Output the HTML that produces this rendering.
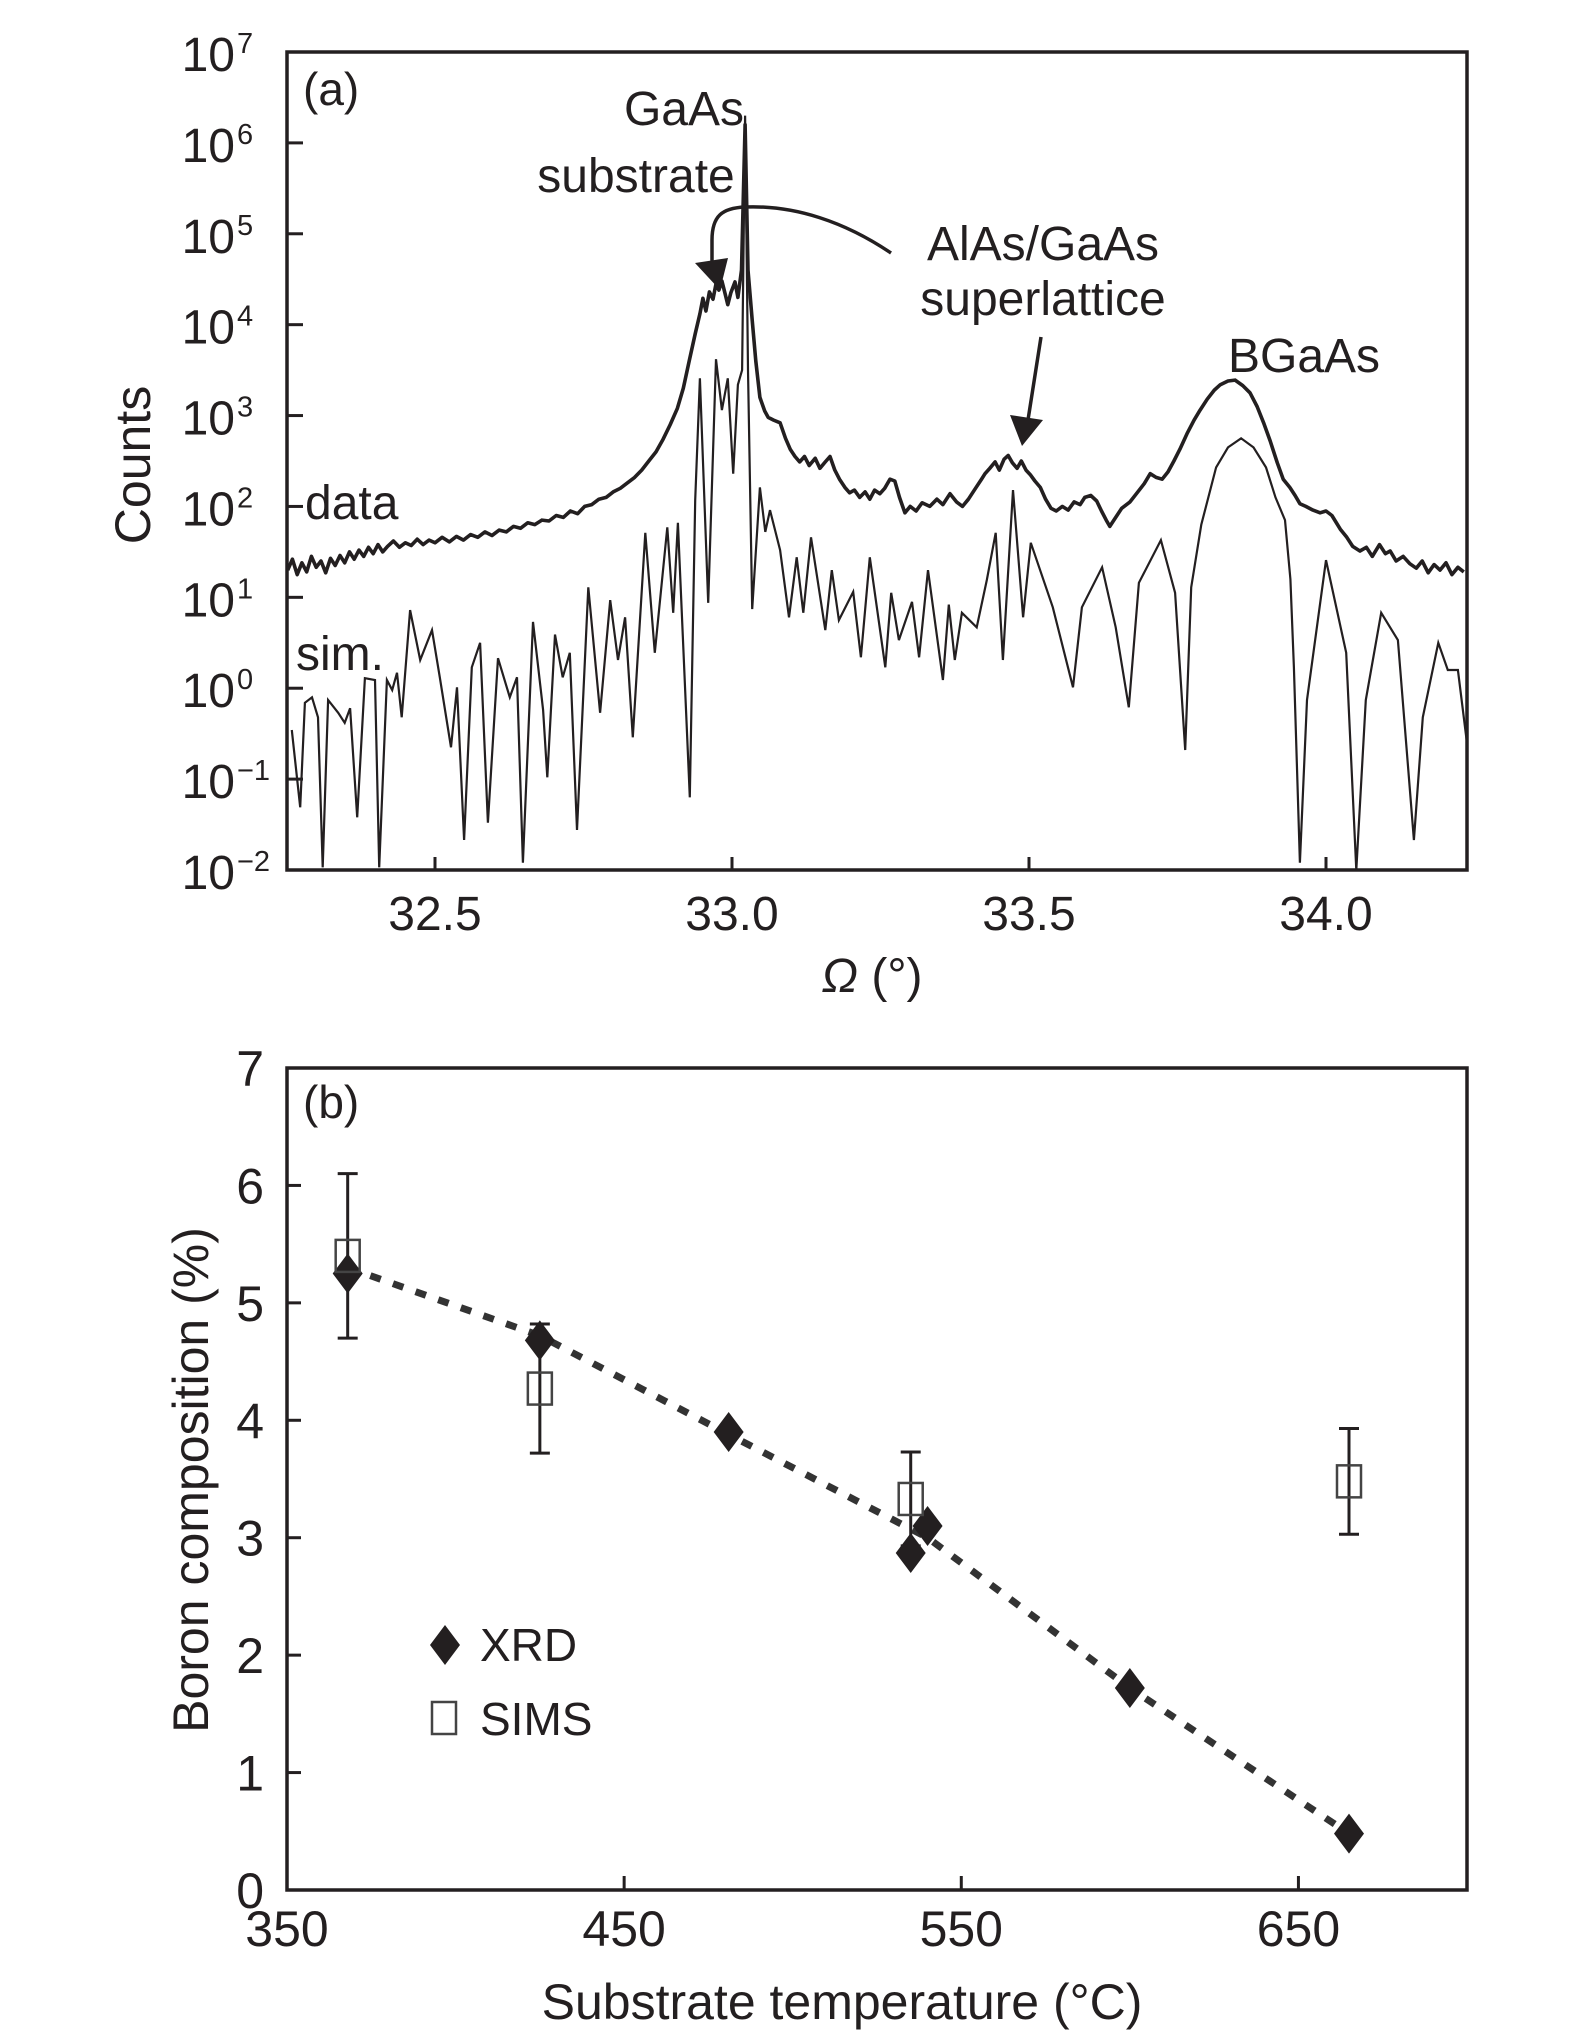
<!DOCTYPE html>
<html><head><meta charset="utf-8">
<style>
html,body{margin:0;padding:0;background:#fff;}
svg{display:block;}
text{font-family:"Liberation Sans",sans-serif;fill:#231f20;}
</style></head>
<body>
<svg id="fig" width="1575" height="2033" viewBox="0 0 1575 2033" xmlns="http://www.w3.org/2000/svg">
<defs><clipPath id="clipA"><rect x="287" y="52" width="1180" height="818"/></clipPath></defs>
<g id="panelA"></g>
<g id="panelB"></g>
</svg>
<script>
// ---------- Panel (a) data ----------
const xTicksA = [32.5, 33.0, 33.5, 34.0];
const xTickLabelsA = ["32.5", "33.0", "33.5", "34.0"];
const yDecadesA = [-2, -1, 0, 1, 2, 3, 4, 5, 6, 7];
const yDecadeLabelsA = ["\u22122", "\u22121", "0", "1", "2", "3", "4", "5", "6", "7"];
const dataOmega = [32.252,32.26,32.268,32.276,32.284,32.292,32.3,32.308,32.316,32.324,32.332,32.34,32.348,32.356,32.364,32.372,32.38,32.388,32.396,32.404,32.412,32.42,32.43,32.44,32.45,32.46,32.47,32.48,32.49,32.5,32.512,32.524,32.536,32.548,32.56,32.572,32.584,32.596,32.608,32.62,32.632,32.644,32.656,32.668,32.68,32.692,32.704,32.716,32.728,32.74,32.752,32.764,32.776,32.788,32.8,32.812,32.824,32.836,32.848,32.86,32.872,32.884,32.896,32.908,32.918,32.928,32.938,32.946,32.951,32.956,32.962,32.968,32.973,32.978,32.983,32.988,32.993,32.998,33.005,33.01,33.016,33.022,33.027,33.034,33.04,33.047,33.055,33.061,33.07,33.081,33.09,33.098,33.106,33.114,33.122,33.13,33.14,33.148,33.157,33.165,33.173,33.181,33.19,33.198,33.206,33.215,33.224,33.232,33.24,33.249,33.257,33.266,33.274,33.282,33.291,33.3,33.31,33.32,33.333,33.345,33.355,33.367,33.378,33.388,33.398,33.41,33.42,33.426,33.434,33.443,33.45,33.458,33.465,33.472,33.48,33.487,33.495,33.502,33.51,33.519,33.528,33.537,33.546,33.556,33.566,33.576,33.586,33.594,33.604,33.614,33.622,33.63,33.636,33.646,33.656,33.67,33.682,33.694,33.704,33.714,33.724,33.734,33.744,33.754,33.766,33.778,33.788,33.8,33.812,33.822,33.835,33.847,33.86,33.872,33.884,33.895,33.906,33.918,33.928,33.939,33.948,33.956,33.966,33.978,33.99,34.0,34.01,34.024,34.035,34.045,34.057,34.068,34.078,34.09,34.1,34.108,34.118,34.13,34.141,34.152,34.162,34.172,34.182,34.192,34.202,34.212,34.222,34.232];
const dataLogCounts = [1.30,1.42,1.25,1.38,1.28,1.45,1.33,1.40,1.27,1.43,1.35,1.46,1.38,1.50,1.42,1.52,1.45,1.55,1.48,1.58,1.50,1.56,1.62,1.55,1.60,1.57,1.64,1.58,1.63,1.60,1.66,1.61,1.67,1.63,1.69,1.66,1.72,1.68,1.74,1.72,1.78,1.76,1.82,1.80,1.85,1.84,1.90,1.88,1.95,1.92,2.00,2.02,2.08,2.10,2.16,2.20,2.26,2.32,2.40,2.50,2.60,2.74,2.90,3.08,3.30,3.60,3.90,4.12,4.29,4.15,4.36,4.28,4.45,4.38,4.48,4.35,4.22,4.35,4.47,4.30,4.60,6.20,4.60,4.05,3.60,3.20,3.05,2.98,2.95,2.92,2.75,2.63,2.55,2.49,2.55,2.45,2.53,2.42,2.49,2.55,2.40,2.30,2.21,2.15,2.18,2.10,2.16,2.08,2.18,2.14,2.20,2.30,2.28,2.10,1.93,2.00,1.95,2.04,2.00,2.08,2.02,2.14,2.05,2.00,2.08,2.20,2.30,2.36,2.42,2.49,2.40,2.52,2.56,2.48,2.42,2.50,2.40,2.35,2.28,2.21,2.08,1.98,1.95,2.00,1.96,2.05,2.02,2.10,2.12,2.06,1.95,1.85,1.78,1.88,1.98,2.05,2.15,2.25,2.36,2.32,2.30,2.38,2.50,2.63,2.80,2.95,3.06,3.18,3.28,3.34,3.38,3.39,3.33,3.25,3.10,2.92,2.72,2.48,2.30,2.21,2.12,2.03,2.00,1.96,1.93,1.95,1.90,1.75,1.66,1.56,1.51,1.55,1.45,1.58,1.48,1.51,1.40,1.45,1.37,1.32,1.40,1.27,1.36,1.30,1.38,1.25,1.33,1.28];
const simOmega = [32.259,32.273,32.281,32.293,32.303,32.311,32.32,32.337,32.348,32.357,32.369,32.382,32.399,32.406,32.419,32.428,32.436,32.444,32.458,32.475,32.495,32.508,32.527,32.537,32.549,32.562,32.576,32.589,32.606,32.626,32.638,32.648,32.665,32.682,32.689,32.702,32.715,32.727,32.739,32.758,32.778,32.795,32.808,32.82,32.833,32.854,32.87,32.891,32.901,32.909,32.929,32.938,32.946,32.96,32.973,32.983,32.993,33.002,33.01,33.017,33.022,33.027,33.034,33.047,33.056,33.064,33.081,33.096,33.109,33.12,33.133,33.157,33.168,33.18,33.204,33.217,33.232,33.258,33.268,33.281,33.303,33.315,33.33,33.355,33.365,33.375,33.387,33.412,33.429,33.444,33.456,33.473,33.49,33.503,33.54,33.574,33.589,33.623,33.646,33.668,33.685,33.722,33.746,33.763,33.773,33.79,33.815,33.835,33.857,33.878,33.899,33.915,33.931,33.94,33.946,33.956,33.968,34.0,34.034,34.051,34.067,34.093,34.121,34.148,34.163,34.189,34.205,34.222,34.241];
const simLogCounts = [-0.46,-1.31,-0.16,-0.10,-0.32,-1.97,-0.13,-0.27,-0.38,-0.22,-1.42,0.11,0.09,-1.97,0.09,-0.02,0.17,-0.32,0.86,0.31,0.64,0.12,-0.65,0.01,-1.67,0.23,0.50,-1.48,0.33,-0.10,0.12,-1.92,0.73,-0.24,-0.98,0.59,0.12,0.39,-1.56,1.11,-0.27,0.97,0.31,0.78,-0.54,1.71,0.39,1.77,0.83,1.82,-1.20,2.07,3.41,0.94,3.62,3.06,3.41,2.36,3.34,3.50,6.30,3.50,0.87,2.21,1.72,1.96,1.52,0.78,1.44,0.83,1.66,0.64,1.30,0.75,1.06,0.34,1.44,0.23,1.05,0.53,0.95,0.34,1.30,0.09,0.92,0.31,0.83,0.67,1.19,1.71,0.31,2.18,0.78,1.60,0.89,0.01,0.89,1.33,0.67,-0.21,1.16,1.63,1.05,-0.68,1.11,1.80,2.43,2.65,2.75,2.65,2.43,2.10,1.85,1.20,0.23,-1.92,-0.13,1.41,0.39,-2.00,-0.13,0.83,0.53,-1.67,-0.32,0.50,0.20,0.20,-0.80];

// ---------- Panel (b) data ----------
const xTicksB = [350, 450, 550, 650];
const yTicksB = [0, 1, 2, 3, 4, 5, 6, 7];
const xrdTemp = [368, 425, 481, 535, 540, 600, 665];
const xrdBoron = [5.25, 4.68, 3.90, 2.87, 3.10, 1.72, 0.48];
const simsTemp = [368, 425, 535, 665];
const simsBoron = [5.40, 4.27, 3.33, 3.48];
const simsErr = [0.70, 0.55, 0.40, 0.45];
const fitTemp = [368, 425, 481, 540, 600, 665];
const fitBoron = [5.30, 4.72, 3.88, 3.00, 1.72, 0.48];

const NS = "http://www.w3.org/2000/svg";
function mk(tag, attrs, parent, txt) {
  const e = document.createElementNS(NS, tag);
  for (const k in attrs) e.setAttribute(k, attrs[k]);
  if (txt !== undefined) e.textContent = txt;
  parent.appendChild(e);
  return e;
}
const ink = "#231f20";

// ---------- Panel (a) ----------
const A = document.getElementById("panelA");
const aL = 287, aR = 1467, aT = 52, aB = 870;
const xA = d => 435 + (d - 32.5) * 594;
const yA = lg => aB - (lg + 2) * (aB - aT) / 9;

let pa = mk("rect", {x: aL, y: aT, width: aR - aL, height: aB - aT, fill: "none", stroke: ink, "stroke-width": 3.5}, A);



yDecadesA.forEach((d, i) => {
  const y = yA(d);
  if (i > 0 && i < yDecadesA.length - 1) {
    const t = mk("line", {x1: aL, x2: aL + 16, y1: y, y2: y, stroke: ink, "stroke-width": 3}, A);
    
    
  }
  const tx = mk("text", {x: 235, y: y + 19, "font-size": 48, "text-anchor": "end"}, A, "10");
  
  
  const sp = mk("text", {x: 237, y: y + 1, "font-size": 29}, A, yDecadeLabelsA[i]);
  
  
});
xTicksA.forEach((d, i) => {
  const x = xA(d);
  const t = mk("line", {x1: x, x2: x, y1: aB, y2: aB - 13, stroke: ink, "stroke-width": 3}, A);
  
  
  const l = mk("text", {x: x, y: 930, "font-size": 48, "text-anchor": "middle"}, A, xTickLabelsA[i]);
  
  
});

const gA = mk("g", {"clip-path": "url(#clipA)"}, A);


let simPts = simOmega.map((d, i) => xA(d).toFixed(1) + "," + yA(simLogCounts[i]).toFixed(1)).join(" ");
let sl = mk("polyline", {points: simPts, fill: "none", stroke: ink, "stroke-width": 2.2, "stroke-linejoin": "miter"}, gA);


let dataPts = dataOmega.map((d, i) => xA(d).toFixed(1) + "," + yA(dataLogCounts[i]).toFixed(1)).join(" ");
let dl = mk("polyline", {points: dataPts, fill: "none", stroke: ink, "stroke-width": 3.6, "stroke-linejoin": "round"}, gA);



function label(parent, x, y, size, s, name, anchor) {
  const t = mk("text", {x: x, y: y, "font-size": size, "text-anchor": anchor || "start"}, parent, s);
  
  
  return t;
}
label(A, 303, 105, 46, "(a)", "panel-label-a");
label(A, 684, 125, 48, "GaAs", "gaas-label", "middle");
label(A, 636, 192, 48, "substrate", "substrate-label", "middle");
label(A, 1043, 260, 48, "AlAs/GaAs", "alas-gaas-label", "middle");
label(A, 1043, 315, 48, "superlattice", "superlattice-label", "middle");
label(A, 1304, 372, 48, "BGaAs", "bgaas-label", "middle");
label(A, 305, 519, 48, "data", "data-curve-label");
label(A, 296, 670, 48, "sim.", "sim-curve-label");

let ar1 = mk("path", {d: "M 891 253 C 845 222, 795 205, 745 207 C 722 208, 712 216, 712 240 L 712 262", fill: "none", stroke: ink, "stroke-width": 3.5}, A);


let ah1 = mk("polygon", {points: "695,263 728,258 720,290", fill: ink}, A);


let ar2 = mk("line", {x1: 1041, y1: 337, x2: 1028, y2: 420, stroke: ink, "stroke-width": 3.5}, A);


let ah2 = mk("polygon", {points: "1010,415 1043,420 1022,446", fill: ink}, A);



let ytA = mk("text", {x: 0, y: 0, "font-size": 50, "text-anchor": "middle", transform: "translate(150,465) rotate(-90)"}, A, "Counts");


let xtA = mk("text", {x: 872, y: 992, "font-size": 48, "text-anchor": "middle"}, A);


mk("tspan", {"font-style": "italic"}, xtA, "\u03A9");
mk("tspan", {}, xtA, " (\u00B0)");

// ---------- Panel (b) ----------
const B = document.getElementById("panelB");
const bL = 287, bR = 1467, bT = 1068, bB = 1890;
const xB = t => bL + (t - 350) * (bR - bL) / 350;
const yB = v => bB - v * (bB - bT) / 7;

let pb = mk("rect", {x: bL, y: bT, width: bR - bL, height: bB - bT, fill: "none", stroke: ink, "stroke-width": 3.5}, B);


yTicksB.forEach(v => {
  const y = yB(v);
  if (v > 0 && v < 7) {
    const t = mk("line", {x1: bL, x2: bL + 14, y1: y, y2: y, stroke: ink, "stroke-width": 3}, B);
    
    
  }
  label(B, 264, y + 18, 50, String(v), "y-tick-label", "end");
});
xTicksB.forEach(v => {
  const x = xB(v);
  if (v > 350) {
    const t = mk("line", {x1: x, x2: x, y1: bB, y2: bB - 14, stroke: ink, "stroke-width": 3}, B);
    
    
  }
  label(B, x, 1946, 50, String(v), "x-tick-label", "middle");
});

let fitPts = fitTemp.map((t, i) => xB(t).toFixed(1) + "," + yB(fitBoron[i]).toFixed(1)).join(" ");
let fl = mk("polyline", {points: fitPts, fill: "none", stroke: "#333", "stroke-width": 7, "stroke-dasharray": "11 13"}, B);



simsTemp.forEach((t, i) => {
  const x = xB(t), yl = yB(simsBoron[i] - simsErr[i]), yh = yB(simsBoron[i] + simsErr[i]);
  const g = mk("g", {stroke: ink, "stroke-width": 3, fill: "none"}, B);
  
  
  mk("line", {x1: x, x2: x, y1: yl, y2: yh}, g);
  mk("line", {x1: x - 10, x2: x + 10, y1: yl, y2: yl}, g);
  mk("line", {x1: x - 10, x2: x + 10, y1: yh, y2: yh}, g);
});
xrdTemp.forEach((t, i) => {
  const x = xB(t), y = yB(xrdBoron[i]);
  const d = mk("polygon", {points: `${x},${y-20} ${x+15},${y} ${x},${y+20} ${x-15},${y}`, fill: ink}, B);
  
  
});
simsTemp.forEach((t, i) => {
  const x = xB(t), y = yB(simsBoron[i]);
  const r = mk("rect", {x: x - 12, y: y - 16, width: 24, height: 32, fill: "none", stroke: "#444", "stroke-width": 2.5}, B);
  
  
});

let lg = mk("g", {}, B);


let ld = mk("polygon", {points: "445,1625 460,1645 445,1665 430,1645", fill: ink}, lg);


label(lg, 480, 1661, 46, "XRD", "legend-xrd-label");
let ls = mk("rect", {x: 432, y: 1702, width: 24, height: 32, fill: "none", stroke: "#444", "stroke-width": 2.5}, lg);


label(lg, 480, 1735, 46, "SIMS", "legend-sims-label");

label(B, 303, 1118, 46, "(b)", "panel-label-b");
let ytB = mk("text", {x: 0, y: 0, "font-size": 50, "text-anchor": "middle", transform: "translate(208,1480) rotate(-90)"}, B, "Boron composition (%)");


label(B, 842, 2019, 50, "Substrate temperature (\u00B0C)", "x-axis-title-b", "middle");
</script>
</body></html>
